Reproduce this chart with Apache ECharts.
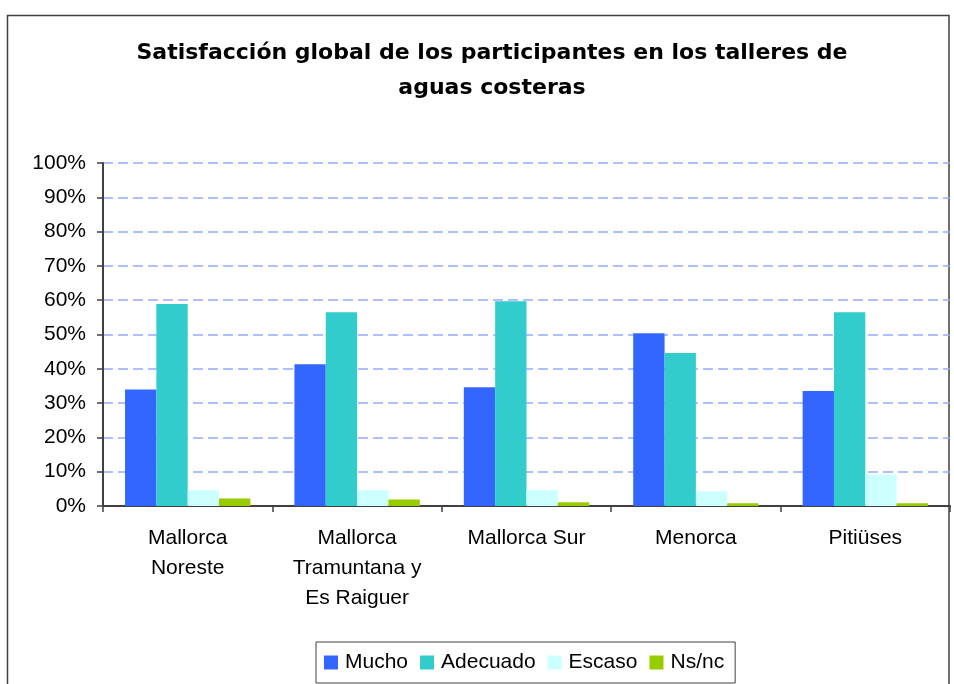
<!DOCTYPE html>
<html>
<head>
<meta charset="utf-8">
<script src="https://cdn.jsdelivr.net/npm/echarts@6/dist/echarts.min.js"></script>
<style>
  html, body { margin: 0; padding: 0; background: #fff; }
  #chart { width: 954px; height: 684px; }
</style>
</head>
<body>
<div id="chart"></div>
<script>
// Regions (categories) and survey answer shares (%)
const categories = ['Mallorca\nNoreste', 'Mallorca\nTramuntana y\nEs Raiguer', 'Mallorca Sur', 'Menorca', 'Pitiüses'];
const mucho    = [34.0, 41.3, 34.6, 50.4, 33.5];
const adecuado = [58.9, 56.5, 59.7, 44.6, 56.5];
const escaso   = [4.6, 4.6, 4.6, 4.3, 9.2];
const nsnc     = [2.2, 1.9, 1.1, 0.8, 0.8];

const seriesNames = ['Mucho', 'Adecuado', 'Escaso', 'Ns/nc'];
const seriesColors = ['#3366FF', '#33CCCC', '#CCFFFF', '#99CC00'];
const seriesData = [mucho, adecuado, escaso, nsnc];

const font = 'Arial, "Liberation Sans", sans-serif';
const titleFont = '"DejaVu Sans", Arial, sans-serif';

const chart = echarts.init(document.getElementById('chart'), null, { renderer: 'canvas' });

chart.setOption({
  backgroundColor: '#ffffff',
  animation: false,
  textStyle: { fontFamily: font },
  title: {
    text: 'Satisfacción global de los participantes en los talleres de\naguas costeras',
    left: 487,
    top: 31,
    textAlign: 'center',
    textStyle: {
      fontFamily: titleFont,
      fontSize: 22,
      fontWeight: 'bold',
      color: '#000',
      lineHeight: 35
    }
  },
  graphic: [{
    type: 'rect',
    shape: { x: 7.5, y: 15.5, width: 941.5, height: 700 },
    style: { fill: 'none', stroke: '#404040', lineWidth: 1.5 },
    silent: true,
    z: -1
  }],
  legend: {
    left: 316,
    top: 642,
    orient: 'horizontal',
    data: seriesNames,
    itemWidth: 14,
    itemHeight: 14,
    itemGap: 12,
    padding: [10, 11, 10, 8],
    borderColor: '#404040',
    borderWidth: 1,
    icon: 'rect',
    textStyle: { fontFamily: font, fontSize: 21, color: '#000', padding: [0, 0, 0, 2] }
  },
  grid: {
    left: 103,
    right: 4,
    top: 163,
    bottom: 178,
    containLabel: false
  },
  xAxis: {
    type: 'category',
    data: categories,
    axisLine: { show: true, lineStyle: { color: '#404040', width: 2 } },
    axisTick: { show: true, alignWithLabel: false, length: 6, lineStyle: { color: '#404040', width: 1.5 } },
    axisLabel: {
      fontFamily: font,
      fontSize: 21,
      color: '#000',
      lineHeight: 30,
      margin: 17,
      interval: 0
    }
  },
  yAxis: {
    type: 'value',
    min: 0,
    max: 100,
    interval: 10,
    axisLine: { show: true, lineStyle: { color: '#404040', width: 2 } },
    axisTick: { show: true, length: 6, lineStyle: { color: '#404040', width: 1.5 } },
    axisLabel: {
      fontFamily: font,
      fontSize: 21,
      color: '#000',
      margin: 17,
      formatter: '{value}%'
    },
    splitLine: {
      show: true,
      lineStyle: { color: '#99AAFF', width: 1.5, type: [10, 5] }
    }
  },
  series: seriesNames.map((name, i) => ({
    name: name,
    type: 'bar',
    data: seriesData[i],
    barGap: '0%',
    barCategoryGap: '26%',
    itemStyle: { color: seriesColors[i] },
    emphasis: { disabled: true }
  }))
});
</script>
</body>
</html>
